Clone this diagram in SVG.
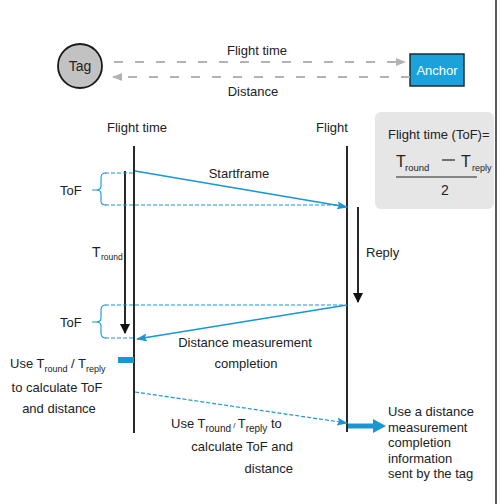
<svg xmlns="http://www.w3.org/2000/svg" width="500" height="504" viewBox="0 0 500 504">
<style>
text{font-family:"Liberation Sans",Arial,sans-serif;fill:#222;font-size:13px}
.gd{stroke:#b3b3b3;stroke-width:2;stroke-dasharray:9 12;fill:none}
.life{stroke:#111;stroke-width:1.8}
.bl{stroke:#1a96d2;stroke-width:1.6;fill:none}
.bd{stroke:#1a96d2;stroke-width:1.2;stroke-dasharray:4 2;fill:none}
.br{stroke:#1a96d2;stroke-width:1.1;fill:none}
.blk{stroke:#111;stroke-width:1.8}
.mid{text-anchor:middle}
.end{text-anchor:end}
</style>
<defs>
<marker id="ag" markerWidth="10" markerHeight="8" refX="9" refY="4" orient="auto" markerUnits="userSpaceOnUse"><path d="M0,0 L10,4 L0,8 Z" fill="#b3b3b3"/></marker>
<marker id="ab" markerWidth="11" markerHeight="8" refX="10" refY="4" orient="auto" markerUnits="userSpaceOnUse"><path d="M0,0 L11,4 L0,8 L2,4 Z" fill="#1a96d2"/></marker>
<marker id="ak" markerWidth="10" markerHeight="10" refX="9" refY="5" orient="auto" markerUnits="userSpaceOnUse"><path d="M0,0 L10,5 L0,10 Z" fill="#111"/></marker>
</defs>
<rect width="500" height="504" fill="#fff"/>
<line x1="496" y1="0" x2="496" y2="504" stroke="#222" stroke-width="1.5"/>

<g id="tag">
<circle cx="80" cy="66" r="22" fill="#c2c2c2" stroke="#1a1a1a" stroke-width="1.8"/>
<text x="80" y="71" class="mid" style="font-size:14px">Tag</text>
</g>
<g id="anchor">
<rect x="410" y="54" width="54" height="32" fill="#1ba1dc" stroke="#1e2b33" stroke-width="1.5"/>
<text x="437" y="75" class="mid" style="fill:#fff">Anchor</text>
</g>

<g id="formula">
<rect x="375" y="112" width="119" height="97" rx="6" fill="#e6e6e6"/>
<text x="388" y="139">Flight time (ToF)=</text>
<text x="396" y="167" style="font-size:16px">T</text>
<text x="405" y="171" style="font-size:9.5px">round</text>
<line x1="442" y1="160" x2="455" y2="160" stroke="#222" stroke-width="1.2"/>
<text x="461" y="167" style="font-size:16px">T</text>
<text x="472" y="171" style="font-size:9px">reply</text>
<line x1="396" y1="177" x2="477" y2="177" stroke="#222" stroke-width="1"/>
<text x="445" y="195" class="mid" style="font-size:14px">2</text>
</g>

<g id="lifelines">
<text x="137" y="132" class="mid">Flight time</text>
<line class="life" x1="134" y1="146" x2="134" y2="433"/>
<text x="332" y="132" class="mid">Flight</text>
<line class="life" x1="347" y1="146" x2="347" y2="432"/>
</g>

<g id="connectors">
<line class="gd" x1="114" y1="62" x2="405" y2="62" marker-end="url(#ag)"/>
<line class="gd" x1="410" y1="77" x2="113" y2="77" marker-end="url(#ag)"/>
<line class="bl" x1="135" y1="171" x2="347" y2="207" marker-end="url(#ab)"/>
<line class="bl" x1="347" y1="305" x2="137" y2="339" marker-end="url(#ab)"/>
<line class="bd" x1="135" y1="392" x2="347" y2="423" marker-end="url(#ab)"/>
<line x1="348" y1="426" x2="375" y2="426" stroke="#1a96d2" stroke-width="5"/>
<path d="M373,419 L386,426 L373,433 Z" fill="#1a96d2"/>
<line class="blk" x1="125" y1="171" x2="125" y2="333" marker-end="url(#ak)"/>
<line class="blk" x1="358" y1="207" x2="358" y2="302" marker-end="url(#ak)"/>
<rect x="118" y="357" width="16" height="6" fill="#1a96d2"/>
</g>

<g id="tof1">
<line class="bd" x1="105" y1="173" x2="134" y2="173"/>
<line class="bd" x1="105" y1="205" x2="345" y2="205"/>
<path class="br" d="M106,173 Q101,173 101,178 L101,186 Q101,190 96,190 L92,190 M96,190 Q101,190 101,194 L101,201 Q101,205 106,205"/>
<text x="60" y="195">ToF</text>
</g>
<g id="tof2">
<line class="bd" x1="105" y1="305" x2="345" y2="305"/>
<line class="bd" x1="105" y1="338" x2="134" y2="338"/>
<path class="br" d="M106,305 Q101,305 101,310 L101,318 Q101,322 96,322 L92,322 M96,322 Q101,322 101,326 L101,333 Q101,338 106,338"/>
<text x="60" y="327">ToF</text>
</g>

<g id="labels">
<text x="257" y="55" class="mid">Flight time</text>
<text x="253" y="96" class="mid">Distance</text>
<text x="239" y="178" class="mid">Startframe</text>
<text x="366" y="257">Reply</text>
<text x="92" y="257" style="font-size:14px">T</text>
<text x="101" y="260" style="font-size:8.5px">round</text>
<text x="245" y="347" class="mid">Distance measurement</text>
<text x="246" y="368" class="mid">completion</text>
<text x="10" y="368">Use T<tspan dy="4" style="font-size:9px">round</tspan><tspan dy="-4"> / T</tspan><tspan dy="4" style="font-size:9px">reply</tspan></text>
<text x="57" y="392" class="mid">to calculate ToF</text>
<text x="59" y="413" class="mid">and distance</text>
<text x="171" y="428">Use T<tspan dy="4" style="font-size:10px">round</tspan><tspan dy="-4" style="font-size:8px"> / </tspan><tspan>T</tspan><tspan dy="4" style="font-size:10px">reply</tspan><tspan dy="-4"> to</tspan></text>
<text x="293" y="451" class="end">calculate ToF and</text>
<text x="293" y="473" class="end">distance</text>
<g style="font-size:13px">
<text x="388" y="416">Use a distance</text>
<text x="388" y="432">measurement</text>
<text x="388" y="447">completion</text>
<text x="388" y="463">information</text>
<text x="388" y="478">sent by the tag</text>
</g>
</g>
</svg>
